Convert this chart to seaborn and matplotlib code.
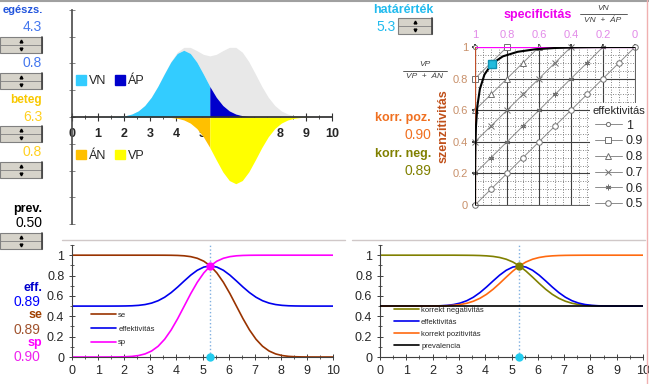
import numpy as np
import matplotlib
matplotlib.use('Agg')
import matplotlib.pyplot as plt
import seaborn as sns
from matplotlib.patches import Patch, Rectangle
from matplotlib.lines import Line2D
from matplotlib.ticker import MultipleLocator, FixedLocator, FixedFormatter

W, H = 649, 384

# values shown on the sheet
threshold = 5.3
eff_levels = [1, 0.9, 0.8, 0.7, 0.6, 0.5]
eff_labels = ['1', '0.9', '0.8', '0.7', '0.6', '0.5']
roc_tick_pos = [0, 0.2, 0.4, 0.6, 0.8, 1]
roc_top_labels = ['0', '0.2', '0.4', '0.6', '0.8', '1']
y_labels = ['0', '0.2', '0.4', '0.6', '0.8', '1']

# test value grid
x_grid = [0, 0.3, 0.55, 0.8, 1.05, 1.3, 1.55, 1.8, 2.05, 2.3, 2.55, 2.8, 3.05, 3.3,
          3.55, 3.8, 4.05, 4.3, 4.55, 4.8, 5.05, 5.3, 5.55, 5.8, 6.05, 6.3, 6.55,
          6.8, 7.05, 7.3, 7.55, 7.8, 8.05, 8.3, 8.55, 8.8, 9.05, 9.3, 9.55, 9.8, 10]

healthy = [0, 0, 0, 0, 0.0001, 0.0002, 0.0007, 0.0019, 0.0048, 0.0110, 0.0228, 0.0430,
           0.0736, 0.1142, 0.1607, 0.2051, 0.2375, 0.2494, 0.2375, 0.2051, 0.1607,
           0.1142, 0.0736, 0.0430, 0.0228, 0.0110, 0.0048, 0.0019, 0.0007, 0.0002,
           0.0001, 0, 0, 0, 0, 0, 0, 0, 0, 0, 0]

diseased = [0, 0, 0, 0, 0, 0, 0, 0, 0, 0, 0, 0, 0.0001, 0.0002, 0.0007, 0.0019, 0.0048,
            0.0110, 0.0228, 0.0430, 0.0736, 0.1142, 0.1607, 0.2051, 0.2375, 0.2494,
            0.2375, 0.2051, 0.1607, 0.1142, 0.0736, 0.0430, 0.0228, 0.0110, 0.0048,
            0.0019, 0.0007, 0.0002, 0.0001, 0, 0]

sp = [0, 0, 0, 0, 0, 0.0001, 0.0003, 0.0009, 0.0025, 0.0062, 0.0144, 0.0304, 0.0591,
      0.1056, 0.1743, 0.2660, 0.3773, 0.5, 0.6227, 0.7340, 0.8257, 0.8944, 0.9409,
      0.9696, 0.9856, 0.9938, 0.9975, 0.9991, 0.9997, 0.9999, 1, 1, 1, 1, 1, 1, 1, 1,
      1, 1, 1]

se = [1, 1, 1, 1, 1, 1, 1, 1, 1, 1, 1, 1, 1, 0.9999, 0.9997, 0.9991, 0.9975, 0.9938,
      0.9856, 0.9696, 0.9409, 0.8944, 0.8257, 0.7340, 0.6227, 0.5, 0.3773, 0.2660,
      0.1743, 0.1056, 0.0591, 0.0304, 0.0144, 0.0062, 0.0025, 0.0009, 0.0003, 0.0001,
      0, 0, 0]

eff = [0.5, 0.5, 0.5, 0.5, 0.5, 0.5, 0.5002, 0.5005, 0.5013, 0.5031, 0.5072, 0.5152,
       0.5296, 0.5528, 0.5870, 0.6326, 0.6874, 0.7469, 0.8042, 0.8518, 0.8833, 0.8944,
       0.8833, 0.8518, 0.8042, 0.7469, 0.6874, 0.6326, 0.5870, 0.5528, 0.5296, 0.5152,
       0.5072, 0.5031, 0.5013, 0.5005, 0.5002, 0.5, 0.5, 0.5, 0.5]

ppv = [0.5, 0.5, 0.5, 0.5, 0.5, 0.5, 0.5001, 0.5002, 0.5006, 0.5016, 0.5036, 0.5077,
       0.5152, 0.5278, 0.5477, 0.5765, 0.6157, 0.6653, 0.7232, 0.7847, 0.8437, 0.8944,
       0.9332, 0.9602, 0.9774, 0.9878, 0.9934, 0.9966, 0.9983, 0.9991, 0.9995, 1, 1, 1,
       1, 1, 1, 1, 1, 1, 1]

npv = [1, 1, 1, 1, 1, 1, 1, 1, 1, 1, 1, 1, 0.9995, 0.9991, 0.9983, 0.9966, 0.9934,
       0.9878, 0.9774, 0.9602, 0.9332, 0.8944, 0.8437, 0.7847, 0.7232, 0.6653, 0.6157,
       0.5765, 0.5477, 0.5278, 0.5152, 0.5077, 0.5036, 0.5016, 0.5006, 0.5002, 0.5001,
       0.5, 0.5, 0.5, 0.5]

prevalence = [0.5] * len(x_grid)

# colours
C_VN, C_AP, C_AN, C_VP, C_ALL = '#33CCFF', '#0000CC', '#FFC000', '#FFFF00', '#E8E8E8'
C_SE, C_EFF, C_SP = '#993300', '#0000EE', '#FF00FF'
C_PPV, C_NPV = '#FF6A10', '#808000'

sns.set_theme(style='white')
plt.rcParams['font.family'] = ['Liberation Sans', 'DejaVu Sans']


def rect(x0, y0, x1, y1):
    return [x0 / W, 1 - y1 / H, (x1 - x0) / W, (y1 - y0) / H]


def fx(x, y):
    return x / W, 1 - y / H


fig = plt.figure(figsize=(W / 100, H / 100), dpi=100)
fig.patch.set_facecolor('white')

x_arr = np.array(x_grid)
below = x_arr <= threshold
above = x_arr >= threshold
it = x_grid.index(threshold)

# ---------------- distributions ----------------
ax = fig.add_axes(rect(72, 10, 332, 224))
ax.stackplot(x_grid, healthy, diseased, colors=[C_ALL, C_ALL], lw=0)
ax.fill_between(x_grid, healthy, where=below, color=C_VN, lw=0)
ax.fill_between(x_grid, healthy, where=above, color=C_AP, lw=0)
neg_diseased = [-v for v in diseased]
ax.fill_between(x_grid, neg_diseased, where=below, color=C_AN, lw=0)
ax.fill_between(x_grid, neg_diseased, where=above, color=C_VP, lw=0)
ax.set_xlim(0, 10)
ax.set_ylim(-0.4, 0.4)
for s in ['top', 'right']:
    ax.spines[s].set_visible(False)
ax.spines['bottom'].set_position(('data', 0))
ax.spines['bottom'].set_color('#303030')
ax.spines['left'].set_color('#505050')
ax.xaxis.set_major_locator(MultipleLocator(1))
ax.xaxis.set_minor_locator(MultipleLocator(0.5))
ax.yaxis.set_major_locator(MultipleLocator(0.1))
ax.set_yticklabels([])
ax.tick_params(axis='x', which='major', direction='inout', length=6, width=0.8,
               color='#303030', labelsize=9, pad=5, bottom=True)
ax.tick_params(axis='x', which='minor', direction='inout', length=3, width=0.6,
               color='#303030', bottom=True)
ax.tick_params(axis='y', direction='inout', length=4, width=0.6, color='#707070', left=True)
for lab in ax.get_xticklabels():
    lab.set_fontweight('bold')
leg1 = ax.legend(handles=[Patch(color=C_VN, label='VN'), Patch(color=C_AP, label='ÁP')],
                 loc='center left', bbox_to_anchor=(-0.01, 0.668), ncol=2, frameon=False,
                 fontsize=9, handlelength=0.8, handleheight=0.8, handletextpad=0.25,
                 columnspacing=0.7, borderpad=0)
ax.add_artist(leg1)
ax.legend(handles=[Patch(color=C_AN, label='ÁN'), Patch(color=C_VP, label='VP')],
          loc='center left', bbox_to_anchor=(-0.01, 0.318), ncol=2, frameon=False,
          fontsize=9, handlelength=0.8, handleheight=0.8, handletextpad=0.25,
          columnspacing=0.7, borderpad=0)


def style_bottom(a):
    a.set_xlim(0, 10)
    a.set_ylim(0, 1.1)
    for s in ['top', 'right']:
        a.spines[s].set_visible(False)
    for s in ['left', 'bottom']:
        a.spines[s].set_color('#404040')
        a.spines[s].set_linewidth(0.8)
    a.xaxis.set_major_locator(MultipleLocator(1))
    a.xaxis.set_minor_locator(MultipleLocator(0.5))
    a.yaxis.set_major_locator(FixedLocator([0, 0.2, 0.4, 0.6, 0.8, 1]))
    a.yaxis.set_major_formatter(FixedFormatter(y_labels))
    a.yaxis.set_minor_locator(MultipleLocator(0.1))
    a.tick_params(which='major', direction='inout', length=5, width=0.7, color='#404040',
                  labelsize=9, bottom=True, left=True, pad=3)
    a.tick_params(which='minor', direction='inout', length=3, width=0.6, color='#404040',
                  bottom=True, left=True)
    a.set_xlabel('')
    a.set_ylabel('')
    a.axvline(threshold, color='#7FAFE0', ls=':', lw=1, zorder=1)
    a.plot([threshold], [0], 'o', color='#22CCEE', ms=5, clip_on=False, zorder=6)


# ---------------- se / eff / sp ----------------
ax2 = fig.add_axes(rect(72, 245, 333, 357))
sns.lineplot(x=x_grid, y=se, ax=ax2, color=C_SE, lw=1.2, label='se')
sns.lineplot(x=x_grid, y=eff, ax=ax2, color=C_EFF, lw=1.2, label='effektivitás')
sns.lineplot(x=x_grid, y=sp, ax=ax2, color=C_SP, lw=1.2, label='sp')
style_bottom(ax2)
ax2.plot([threshold], [se[it]], 'o', color=C_SP, ms=5, zorder=6)
ax2.legend(loc='lower left', bbox_to_anchor=(0.06, 0.06), frameon=False, fontsize=5.5,
           handlelength=3.2, handletextpad=0.3, labelspacing=0.85, borderpad=0)

# ---------------- predictive values ----------------
ax3 = fig.add_axes(rect(380, 245, 643, 357))
sns.lineplot(x=x_grid, y=npv, ax=ax3, color=C_NPV, lw=1.2, label='korrekt negativitás')
sns.lineplot(x=x_grid, y=eff, ax=ax3, color=C_EFF, lw=1.2, label='effektivitás')
sns.lineplot(x=x_grid, y=ppv, ax=ax3, color=C_PPV, lw=1.2, label='korrekt pozitivitás')
sns.lineplot(x=x_grid, y=prevalence, ax=ax3, color='black', lw=1.2, label='prevalencia')
ax3.lines[-1].set_zorder(4)
style_bottom(ax3)
ax3.plot([threshold], [npv[it]], 'o', color=C_NPV, ms=5, zorder=6)
ax3.legend(loc='lower left', bbox_to_anchor=(0.04, 0.03), frameon=False, fontsize=5.5,
           handlelength=3.2, handletextpad=0.3, labelspacing=0.6, borderpad=0)

# ---------------- ROC ----------------
ax4 = fig.add_axes(rect(475, 47, 635, 205))
ax4.set_xlim(1, 0)
ax4.set_ylim(0, 1)
ax4.xaxis.set_major_locator(FixedLocator(roc_tick_pos))
ax4.xaxis.set_major_formatter(FixedFormatter(roc_top_labels))
ax4.yaxis.set_major_locator(FixedLocator(roc_tick_pos))
ax4.yaxis.set_major_formatter(FixedFormatter(y_labels))
ax4.xaxis.set_minor_locator(MultipleLocator(0.05))
ax4.yaxis.set_minor_locator(MultipleLocator(0.05))
ax4.xaxis.tick_top()
ax4.grid(which='major', color='#404040', lw=0.8, ls='-')
ax4.grid(which='minor', color='#606060', lw=0.6, ls=(0, (1, 2)))
ax4.set_axisbelow(True)
for s in ax4.spines.values():
    s.set_color('#606060')
    s.set_linewidth(0.7)
ax4.tick_params(axis='x', which='major', labelsize=8, labelcolor='#E28AE8', length=2,
                top=True, pad=3)
ax4.tick_params(axis='y', which='major', labelsize=8, labelcolor='#C8906A', length=2,
                left=True, pad=3)
ax4.tick_params(which='minor', length=0)
for lev, lab, mk in zip(eff_levels, eff_labels, ['o', 's', '^', 'x', (6, 2, 0), 'o']):
    sp_pts = np.round(np.arange(1, 2 * lev - 1 - 1e-9, -0.1), 2)
    se_pts = np.round(2 * lev - sp_pts, 2)
    ms = 3 if lev == 1 else 4
    ax4.plot(sp_pts, se_pts, color='#8C8C8C', lw=0.7, marker=mk, ms=ms, mfc='white',
             mec='#707070', mew=0.7, label=lab, clip_on=False, zorder=2)
ax4.axhline(1, color=C_SP, lw=1.6, zorder=3)
ax4.axvline(1, color='#C0502A', lw=1.6, zorder=3)
sns.lineplot(x=sp, y=se, ax=ax4, sort=False, estimator=None, color='black', lw=1.5,
             zorder=4)
ax4.plot([sp[it]], [se[it]], 's', color='#22BBDD', mec='#1090B0', ms=6, zorder=5)
ax4.set_xlabel('')
ax4.set_ylabel('szenzitivitás', color='#C0501A', fontsize=9, fontweight='bold', labelpad=2)
ax4.legend(title='effektivitás', loc='lower right', bbox_to_anchor=(1.08, -0.05),
           fontsize=9, title_fontsize=8, frameon=True, facecolor='white',
           edgecolor='none', framealpha=1, handlelength=2.2, handletextpad=0.3,
           labelspacing=0.3, borderpad=0.2, borderaxespad=0)

# ---------------- sheet texts ----------------
def txt(x, y, s, color, size=9, weight='normal', ha='right', style='normal'):
    fig.text(*fx(x, y), s, color=color, fontsize=size, fontweight=weight, ha=ha,
             va='center', style=style)


txt(43, 10, 'egészs.', '#2255DD', size=8, weight='bold')
txt(42, 27, '4.3', '#4477EE', size=10)
txt(42, 63, '0.8', '#4477EE', size=10)
txt(42, 100, 'beteg', '#F8C800', size=8.5, weight='bold')
txt(42, 117, '6.3', '#FFD020', size=10)
txt(42, 152, '0.8', '#FFD020', size=10)
txt(42, 209, 'prev.', 'black', weight='bold')
txt(42, 223, '0.50', 'black', size=10)
txt(42, 288, 'eff.', '#0000CC', weight='bold')
txt(40, 302, '0.89', '#0000FF', size=10)
txt(42, 315, 'se', '#A04000', weight='bold')
txt(40, 330, '0.89', '#A0522D', size=10)
txt(42, 343, 'sp', '#FF00FF', weight='bold')
txt(40, 357, '0.90', '#EE22EE', size=10)

txt(403, 10, 'határérték', '#22BBEE', weight='bold', ha='center')
txt(396, 27, '5.3', '#22BBEE', size=10)
txt(538, 15, 'specificitás', '#EE00EE', weight='bold', ha='center')
txt(431, 118, 'korr. poz.', '#F07020', weight='bold')
txt(431, 135, '0.90', '#F07020', size=10)
txt(431, 154, 'korr. neg.', '#808000', weight='bold')
txt(431, 171, '0.89', '#808000', size=10)

# fractions
txt(603, 8, 'VN', '#404040', size=6, ha='center', style='italic')
fig.add_artist(Line2D([580 / W, 627 / W], [1 - 14 / H] * 2, color='#404040', lw=0.6))
txt(603, 20, 'VN  +  ÁP', '#404040', size=6, ha='center', style='italic')
txt(425, 64, 'VP', '#404040', size=6, ha='center', style='italic')
fig.add_artist(Line2D([403 / W, 447 / W], [1 - 71 / H] * 2, color='#404040', lw=0.6))
txt(425, 77, 'VP  +  ÁN', '#404040', size=6, ha='center', style='italic')


# spinner buttons
def spinner(x0, y0, w=42, h=16):
    fig.add_artist(Rectangle(fx(x0, y0 + h), w / W, h / H, transform=fig.transFigure,
                             facecolor='#D6D3CA', edgecolor='#808080', lw=0.8))
    fig.add_artist(Line2D([x0 / W, (x0 + w) / W], [1 - (y0 + h / 2) / H] * 2,
                          color='#808080', lw=0.6))
    fig.add_artist(Line2D([(x0 + w) / W] * 2, [1 - y0 / H, 1 - (y0 + h) / H],
                          color='#404040', lw=1.2))
    for dy, m in [(h * 0.25, '^'), (h * 0.75, 'v')]:
        fig.add_artist(Line2D([(x0 + w / 2) / W], [1 - (y0 + dy) / H], marker=m, ms=2,
                              color='black', transform=fig.transFigure))


for y0 in [37, 73, 126, 162, 233]:
    spinner(0, y0)
spinner(398, 18, w=34)

# sheet border lines
fig.add_artist(Line2D([0, 1], [1 - 0.5 / H] * 2, color='#A0A0A0', lw=1.5))
fig.add_artist(Line2D([647 / W] * 2, [0, 1], color='#F0B0B0', lw=1))
fig.add_artist(Line2D([62 / W, 345 / W], [1 - 240 / H] * 2, color='#D0C8C8', lw=1))
fig.add_artist(Line2D([352 / W, 645 / W], [1 - 240 / H] * 2, color='#D0C8C8', lw=1))

fig.savefig('out.png', dpi=100, facecolor='white')
